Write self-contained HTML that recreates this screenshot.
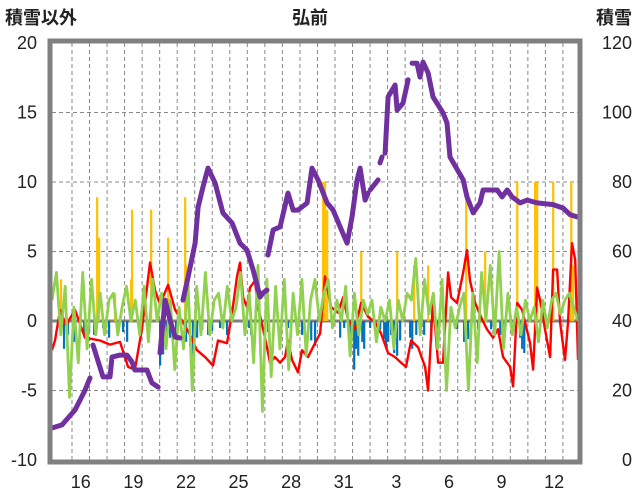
<!DOCTYPE html>
<html><head><meta charset="utf-8"><style>
html,body{margin:0;padding:0;background:#fff;}
svg{display:block;font-family:"Liberation Sans","Noto Sans CJK JP",sans-serif;}
</style></head><body>
<svg id="chart" width="636" height="501" viewBox="0 0 636 501" xmlns="http://www.w3.org/2000/svg">
<text x="5" y="24" font-size="18" fill="#222" font-weight="bold">積雪以外</text>
<text x="310" y="24" font-size="18" fill="#222" font-weight="bold" text-anchor="middle">弘前</text>
<text x="632" y="24" font-size="18" fill="#222" font-weight="bold" text-anchor="end">積雪</text>
<g id="grid"></g><g id="bars"></g><g id="lines"></g><g id="axes"></g>
</svg>
<script>
const leftTicks=[20,15,10,5,0,-5,-10];
const rightTicks=[120,100,80,60,40,20,0];
const dayLabels=["16","19","22","25","28","31","3","6","9","12"];
const dayLabelPos=[1.64,4.64,7.64,10.64,13.64,16.64,19.64,22.64,25.64,28.64];
const redT=[0,.17,.46,.8,1.31,1.88,2.74,3.31,3.88,4.34,4.73,5.13,5.59,5.88,6.16,6.62,7.02,7.47,7.87,8.27,8.73,9.18,9.47,9.98,10.27,10.55,10.72,10.9,11.12,11.29,11.58,11.75,12.15,12.44,12.72,13.01,13.29,13.46,13.69,14.03,14.26,14.6,15,15.29,15.57,15.92,16.31,16.6,16.89,17.28,17.63,18.03,18.43,18.77,19.17,19.57,19.91,20.19,20.48,20.88,21.28,21.45,21.73,22.02,22.3,22.59,22.76,23.1,23.45,23.67,23.84,24.13,24.53,24.81,25.16,25.44,25.73,26.13,26.3,26.53,26.81,27.27,27.44,27.67,27.84,28.12,28.41,28.58,28.81,28.98,29.26,29.43,29.66,29.84,30];
const redV=[-2.1,-1.4,.8,-.3,.8,-1.2,-1.4,-1.7,-1.5,-3.3,-3.5,-.6,4.2,2.2,1.2,2.6,.8,-.1,-1,-2.1,-2.6,-3.2,-1.4,-1.6,.6,3.2,4.2,1.7,1,2.4,2.9,1,-1.2,-3,-2.6,-3,-2.6,-1.4,-2.8,-3.7,-2.1,-2.6,-1.6,-.9,3.2,1,.6,1.7,.1,-.6,1.3,.3,-.1,-.9,-2.3,-2.6,-3,-3.3,-1.4,-1.9,-3.3,-5,1.5,-3,-3,3.5,1.7,1.3,3.5,5.1,2.9,1.3,.1,-.6,-1.2,-.6,-2.6,-3.3,-4.7,1.3,.8,-1.6,-3.5,2.4,1.5,-.6,-2.6,3.7,3.7,-.1,-2.8,-.1,5.6,4.4,-2.8];
const greenV=[1.5,3.5,-1,2.5,-5.5,1,-3,3.5,-2,3,-1,2,-1,1.5,2,-1,1,2.5,0,1.5,-1,2.5,-1.5,3,0,2,-2,1.5,-3.5,1,-2,3,-5,2.5,-1,3.5,-1,1.5,2,-.5,2.5,0,1,3.5,-1,2,-3,4,-6.5,3,-4,2.5,-2,3,-3.5,2,-1,3,-2.5,1.5,3,0,2,3,-.5,1.5,0,2.5,-2.5,2,-1,1.5,.5,1.5,-1.5,1,0,1.5,-2,1.5,0,2,1.5,4.5,-1,3,.5,2,-2,3,-5,1,-.5,1,2,-5,2,-3,3.5,0,4,-1,5,-2,2,-1,1,-1,1.5,0,1,-1.5,1.5,-.5,1.5,2,.5,1.5,2,1,0];
const snowT=[0,.57,1.31,1.88,2.17,null,2.34,2.91,3.31,3.42,3.88,4.28,4.56,4.73,5.42,5.7,6.05,null,6.16,6.45,6.73,7.02,7.3,null,7.47,7.76,8.16,8.33,8.61,8.9,9.3,9.75,10.27,10.72,11.12,11.47,11.87,12.04,12.26,null,12.32,12.61,13.01,13.46,13.75,14.03,14.55,14.83,15.17,15.69,16.03,16.43,16.83,17.11,17.4,17.57,17.86,18.03,null,18.14,18.6,null,18.71,18.82,null,19,19.17,19.57,19.68,20.02,20.31,null,20.54,20.82,20.99,21.16,21.45,21.73,22.3,22.53,22.7,23.45,23.67,24.02,24.41,24.59,24.99,25.39,25.67,25.96,26.24,26.7,27.1,27.67,28.58,29.15,29.55,30];
const snowV=[9.2,10.1,14.4,20.1,23.6,null,33.1,23.9,23.9,29.6,30.2,30.2,28.2,25.9,25.9,22.2,21,null,30.8,46,40.3,35.4,35.1,null,46,52.7,62.4,72.8,78.6,84,79.7,71.1,68.2,62.4,60.4,54.7,46.9,48.1,48.9,null,59,66.2,67.1,76.8,71.9,71.9,74,84,80.6,74,71.9,67.1,62.4,69.9,80.6,84,74.8,76.8,null,77.7,80.6,null,85.5,87.2,null,88.3,104.5,107.9,100.7,102.7,109.4,null,114.2,114.2,110.2,114.5,111.4,104.5,99.9,97,87.2,80.6,75.7,71.1,74,77.7,77.7,77.7,75.7,77.7,75.7,74,74.8,74,73.5,72.5,70.6,69.9];
const blueT=[.68,.91,1.25,1.83,2.11,2.4,2.91,3.25,3.71,4.05,4.28,5.02,5.42,6.16,6.33,6.5,6.73,7.07,7.64,7.87,8.04,8.27,8.56,8.9,9.13,9.58,9.98,11.24,11.35,12.32,13.46,14.03,14.26,14.38,14.78,15,16.43,16.66,17,17.23,17.34,17.46,17.69,17.8,18.14,18.71,18.94,19.05,19.17,19.34,19.51,19.68,19.85,20.42,20.54,20.77,21.22,21.62,21.96,22.36,23.1,23.5,23.73,24.3,25.04,25.56,25.79,26.7,26.81,26.93];
const blueV=[-2,-1,-1.5,-1,-.8,-1,-.5,-1.2,-.5,-.8,-1.5,-1,-.6,-3.2,-2.4,-2,-1.2,-1,-1.5,-1.8,-3,-1.2,-.6,-1,-.7,-.5,-1,-.5,-1,-.8,-.5,-.8,-1,-.6,-1.4,-1.8,-1.2,-.5,-1.5,-3.5,-2,-2.5,-1.5,-2,-.5,-.6,-1.3,-2,-1.5,-1,-2.3,-2.5,-1.4,-1.2,-2,-1,-1,-1.5,-.6,-.5,-.6,-1.5,-1.3,-.6,-.6,-1,-.8,-1.2,-2,-2.3];
const orangeT=[.51,2.57,2.68,3.59,4.51,4.56,5.65,6.62,7.59,7.64,15.46,15.57,15.69,17.63,19.68,20.65,21.45,23.62,24.7,26.53,27.55,27.67,28.58,29.61,29.72];
const orangeV=[3,8.9,6,2,3,8,8,6,8.9,4,10,10,8,5,5,4,4,9.5,5,10,10,10,10,10,4];

const NS="http://www.w3.org/2000/svg";
const L=52,R=578,T=43,B=460,SPAN=30;
function xs(t){return L+(R-L)*t/SPAN;}
function yl(v){return B-(v+10)*(B-T)/30;}
function yr(v){return B-v*(B-T)/120;}
function mk(tag,attrs,parent){const e=document.createElementNS(NS,tag);for(const k in attrs)e.setAttribute(k,attrs[k]);parent.appendChild(e);return e;}
const grid=document.getElementById('grid'),bars=document.getElementById('bars'),lines=document.getElementById('lines'),axes=document.getElementById('axes');
leftTicks.forEach(v=>{
  if(v!==0&&v!==20&&v!==-10){const g=mk('line',{x1:L,x2:R,y1:yl(v),y2:yl(v),stroke:'#888','stroke-width':1,'stroke-dasharray':'4,3'},grid);
  
  }
  const t=mk('text',{x:37,y:yl(v)+6,'font-size':18,'text-anchor':'end',fill:'#222'},axes);t.textContent=v;
  
  
});
rightTicks.forEach(v=>{
  const t=mk('text',{x:632,y:yr(v)+6,'font-size':18,'text-anchor':'end',fill:'#222'},axes);t.textContent=v;
  
  
});
for(let d=0;d<SPAN;d++){
  const t=d+1.14;
  if(t>=SPAN)break;
  const g=mk('line',{x1:xs(t),x2:xs(t),y1:T,y2:B,stroke:'#888','stroke-width':1,'stroke-dasharray':'4,3'},grid);
  
  
}
dayLabels.forEach((s,i)=>{
  const t=mk('text',{x:xs(dayLabelPos[i]),y:488,'font-size':18,'text-anchor':'middle',fill:'#222'},axes);t.textContent=s;
  
  
});
const zl=mk('line',{x1:L,x2:R,y1:yl(0),y2:yl(0),stroke:'#808080','stroke-width':3},grid);


blueT.forEach((t,i)=>{
  const b=mk('rect',{x:xs(t)-1,y:yl(0),width:2.2,height:yl(blueV[i])-yl(0),fill:'#0070c0'},bars);
  
  
});
orangeT.forEach((t,i)=>{
  const b=mk('rect',{x:xs(t)-1,y:yl(orangeV[i]),width:2.2,height:yl(0)-yl(orangeV[i]),fill:'#ffc000'},bars);
  
  
});
function path(ts,vs,yf){let d='',pen=false;for(let i=0;i<vs.length;i++){if(vs[i]===null||ts[i]===null){pen=false;continue;}d+=(pen?'L':'M')+xs(ts[i]).toFixed(1)+','+yf(vs[i]).toFixed(1);pen=true;}return d;}
const red=mk('path',{d:path(redT,redV,yl),fill:'none',stroke:'#ff0000','stroke-width':2.4,'stroke-linejoin':'round'},lines);


const greenT=greenV.map((v,i)=>i*0.25);
const green=mk('path',{d:path(greenT,greenV,yl),fill:'none',stroke:'#92d050','stroke-width':2.8,'stroke-linejoin':'round'},lines);


const snow=mk('path',{d:path(snowT,snowV,yr),fill:'none',stroke:'#7030a0','stroke-width':5,'stroke-linejoin':'round','stroke-linecap':'round'},lines);


const fr=mk('rect',{x:L-2,y:T-2,width:R-L+4,height:B-T+4,fill:'none',stroke:'#808080','stroke-width':5},axes);


</script>
</body></html>
